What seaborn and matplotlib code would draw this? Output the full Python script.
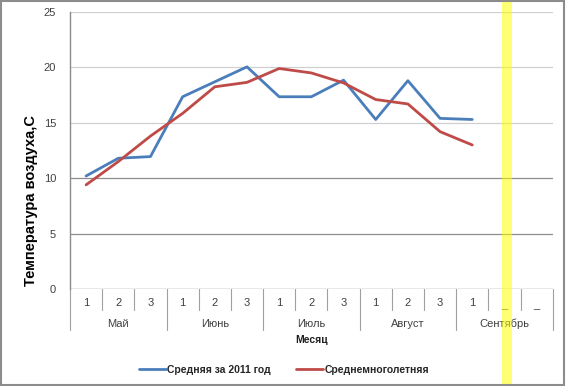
import pandas as pd
import seaborn as sns
import matplotlib
matplotlib.use("Agg")
from matplotlib import pyplot as plt
from matplotlib.patches import Rectangle
from matplotlib.lines import Line2D

# decades (1, 2, 3) inside each month
decades = ["1", "2", "3", "1", "2", "3", "1", "2", "3", "1", "2", "3", "1", "_", "_"]
months = ["Май", "Июнь", "Июль", "Август", "Сентябрь"]

# mean air temperature per decade
t_2011 = [10.2, 11.8, 11.95, 17.35, 18.7, 20.05, 17.35, 17.35, 18.85, 15.3, 18.8, 15.4, 15.3]
t_norm = [9.4, 11.5, 13.8, 15.85, 18.25, 18.65, 19.9, 19.5, 18.6, 17.1, 16.7, 14.2, 13.0]

series_names = ["Средняя за 2011 год", "Среднемноголетняя"]
colors = ["#4a7ebb", "#be4b48"]

df = pd.DataFrame({
    "pos": list(range(len(t_2011))) * 2,
    "temp": t_2011 + t_norm,
    "series": [series_names[0]] * len(t_2011) + [series_names[1]] * len(t_norm),
})

sns.set_style("white")
plt.rcParams["font.family"] = ["Liberation Sans", "DejaVu Sans"]

fig = plt.figure(figsize=(5.66, 3.86), dpi=100)
ax = fig.add_axes([70 / 566, 1 - 289 / 386, (552.7 - 70) / 566, 277 / 386])

sns.lineplot(data=df, x="pos", y="temp", hue="series", palette=colors,
             linewidth=2.0, ax=ax, legend=False)

ax.set_xlim(-0.5, len(decades) - 0.5)
ax.set_ylim(0, 25)
ax.set_yticks([0, 5, 10, 15, 20, 25])
for v in [15, 20, 25]:
    ax.axhline(v, color="#d0d0d0", lw=0.9, zorder=0)
for v in [5, 10]:
    ax.axhline(v, color="#8c8c8c", lw=0.9, zorder=0)
ax.axhline(0, color="#8c8c8c", lw=1.0, zorder=1)
for s in ["top", "right", "bottom"]:
    ax.spines[s].set_visible(False)
ax.spines["left"].set_color("#8c8c8c")
ax.spines["left"].set_linewidth(1.0)
ax.tick_params(axis="y", labelsize=8, colors="#404040", length=4, width=0.8,
               direction="out", pad=6)
ax.tick_params(axis="y", which="both", color="#8c8c8c")
ax.set_xticks([])
ax.set_xlabel("")
ax.set_ylabel("")

# hierarchical category axis
tr = ax.get_xaxis_transform()
h = 277.0
y_small = -(310 - 289) / h
y_big = -(330 - 289) / h
for i in range(len(decades) + 1):
    x = i - 0.5
    y_end = y_big if i % 3 == 0 else y_small
    ax.add_line(Line2D([x, x], [0, y_end], transform=tr, color="#a0a0a0",
                       lw=0.8, clip_on=False))
for i, d in enumerate(decades):
    yy = -(302.7 - 289) / h if d != "_" else -(305 - 289) / h
    ax.text(i, yy, d, transform=tr, ha="center", va="center", fontsize=8,
            color="#404040")
for j, m in enumerate(months):
    ax.text(3 * j + 1, -(324 - 289) / h, m, transform=tr, ha="center",
            va="center", fontsize=8, color="#404040")
ax.text(7, -(340 - 289) / h, "Месяц", transform=tr, ha="center", va="center",
        fontsize=7.5, fontweight="bold", color="#202020")

fig.text(31 / 566, 1 - 200 / 386, "Температура воздуха,С", rotation=90,
         ha="center", va="center", fontsize=10.5, color="#000000",
         fontweight="bold")

handles = [Line2D([], [], color=c, lw=2.0) for c in colors]
fig.legend(handles, series_names, loc="center", bbox_to_anchor=(284 / 566, 1 - 370 / 386),
           ncol=2, frameon=False, handlelength=2.6, handletextpad=0.15,
           columnspacing=2.4, prop={"weight": "bold", "size": 7.5})

# yellow marker band
fig.patches.append(Rectangle((502 / 566, 0), 10 / 566, 1, transform=fig.transFigure,
                             facecolor="#ffff00", alpha=0.55, edgecolor="none",
                             zorder=5))
# outer frame
fig.patches.append(Rectangle((0.002, 0.003), 0.994, 0.994, transform=fig.transFigure,
                             facecolor="none", edgecolor="#8c8c8c", lw=1.5, zorder=6))

fig.savefig("out.png", dpi=100)
